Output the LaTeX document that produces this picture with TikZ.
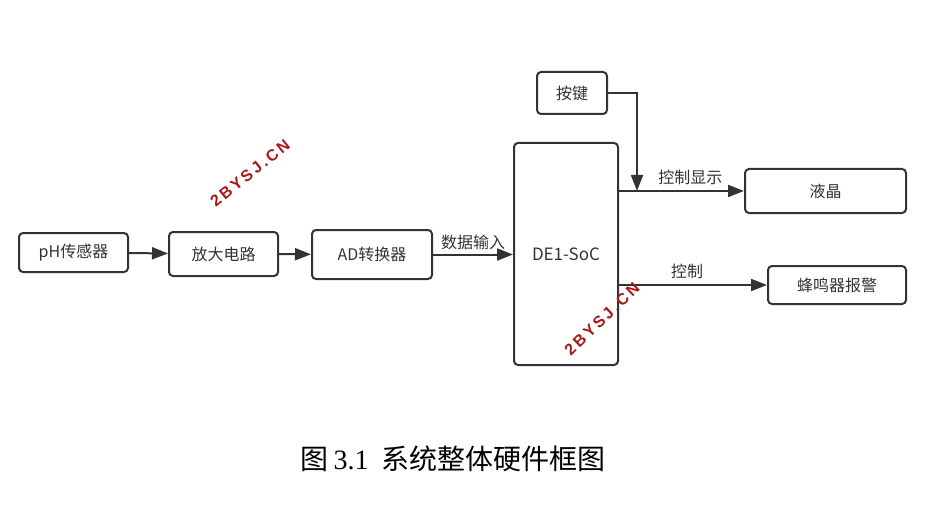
\documentclass[tikz,border=0pt]{standalone}
\usepackage{fontspec}
\setmainfont{Liberation Serif}
\newfontfamily\cjk{Noto Sans CJK SC}
\newfontfamily\capfont{Noto Sans CJK SC}
\newfontfamily\wmfont{Liberation Sans}
\usetikzlibrary{arrows.meta}
\definecolor{ln}{RGB}{51,51,51}
\definecolor{wm}{RGB}{165,25,25}
\begin{document}
\begin{tikzpicture}[x=1pt,y=-1pt,
  blk/.style={draw=ln,line width=2pt,rounded corners=4pt,inner sep=0pt,font=\cjk\fontsize{16}{18}\selectfont,text=ln},
  con/.style={draw=ln,line width=2pt,-{Triangle[length=16pt,width=12pt]}},
  lbl/.style={font=\cjk\fontsize{16}{18}\selectfont,text=ln},
  wmk/.style={font=\wmfont\bfseries\fontsize{16}{16}\selectfont,text=wm}]
\useasboundingbox (0,0) rectangle (939,505);
% boxes
\node[blk,minimum width=109pt,minimum height=39pt] (ph) at (73.5,252.5) {pH传感器};
\node[blk,minimum width=109pt,minimum height=44pt] (amp) at (223.5,254) {放大电路};
\node[blk,minimum width=120pt,minimum height=49pt] (ad) at (372,254.5) {AD转换器};
\node[blk,minimum width=104pt,minimum height=222pt] (soc) at (566,254) {\fontsize{17}{19}\selectfont DE1-SoC};
\node[blk,minimum width=70pt,minimum height=42pt] (key) at (572,93) {按键};
\node[blk,minimum width=161pt,minimum height=44pt] (lcd) at (825.5,191) {液晶};
\node[blk,minimum width=138pt,minimum height=38pt] (buz) at (837,285) {蜂鸣器报警};
% connectors
\draw[con] (ph) -- (amp);
\draw[con] (amp) -- (ad);
\draw[con] (ad.east) -- (soc.west |- ad.east) node[lbl,pos=0.5,above=0pt] (l1) {数据输入};
\coordinate (j) at (637,191);
\draw[con] (key.east) -| (j);
\draw[con] (soc.east |- lcd.west) -- (lcd.west) node[lbl,pos=0.57,above=2pt] (l2) {控制显示};
\draw[con] (soc.east |- buz.west) -- (buz.west) node[lbl,pos=0.46,above=2pt] (l3) {控制};
% watermarks
\node[wmk,rotate=39] (w1) at (250,173) {2\,B\,Y\,S\,J\,.\,C\,N};
\node[wmk,rotate=44] (w2) at (602,319) {2\,B\,Y\,S\,J\,.\,C\,N};
% caption
\node[font=\capfont\fontsize{28}{31}\selectfont,text=black] (cap) at (453,459) {图\,{\rmfamily 3.1}\ \ 系统整体硬件框图};
\end{tikzpicture}
\end{document}
